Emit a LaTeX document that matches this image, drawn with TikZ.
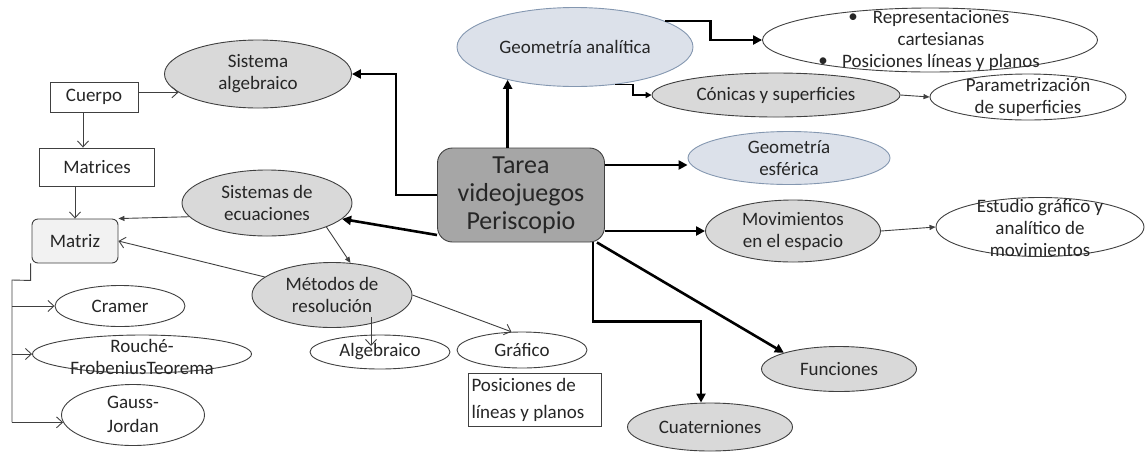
\documentclass[tikz,border=0pt]{standalone}
\usepackage{fontspec}
\setmainfont{Carlito}
\usepackage{tikz}
\usetikzlibrary{calc,arrows.meta,shapes.geometric}
\definecolor{ink}{HTML}{262626}
\definecolor{edgec}{HTML}{404040}
\definecolor{grayc}{HTML}{D9D9D9}
\definecolor{paleg}{HTML}{F2F2F2}
\definecolor{darkg}{HTML}{A6A6A6}
\definecolor{bluec}{HTML}{DCE1EA}
\definecolor{blued}{HTML}{8497B0}
\tikzset{
  bigar/.style={-{Triangle[length=9pt,width=9pt]},line width=2.6pt,black},
  medar/.style={-{Triangle[length=6pt,width=6pt]},line width=1.6pt,black},
  smar/.style={-{Triangle[length=6pt,width=5pt]},line width=0.9pt,edgec},
  opar/.style={-{Straight Barb[length=6pt,width=11pt]},line width=0.9pt,edgec},
  lbl/.style={font=\fontsize{19}{22}\selectfont,text=ink,align=center},
  box/.style={lbl,draw=edgec,line width=0.9pt,inner sep=2pt},
  ovl/.style={lbl,ellipse,draw=edgec,line width=0.9pt,fill=white,inner sep=0pt},
  gov/.style={ovl,fill=grayc},
  bov/.style={ovl,fill=bluec,draw=blued},
  sz/.style 2 args={minimum width=#1pt,minimum height=#2pt}
}
\begin{document}
\begin{tikzpicture}[x=1pt,y=-1pt]
\useasboundingbox (0,0) rectangle (1145,451);
% lado izquierdo
\node[box,sz={88}{30}] (cuerpo) at (94,97) {Cuerpo};
\node[box,sz={115}{38}] (matrices) at (97,167) {Matrices};
\node[box,sz={86}{44},rounded corners=6pt,fill=paleg] (matriz) at (75,241) {Matriz};
\node[gov,sz={187}{68}] (sa) at (258,74) {Sistema\\algebraico};
\node[gov,sz={170}{66}] (se) at (267,203) {Sistemas de\\ecuaciones};
\node[gov,sz={160}{65}] (mr) at (332,295) {Métodos de\\resolución};
\node[ovl,sz={130}{41}] (cramer) at (120,306) {Cramer};
\node[ovl,sz={219}{38}] (rf) at (142,354) {};
\node[lbl] (rftx) at (142,357) {Rouché-\\FrobeniusTeorema};
\node[ovl,sz={143}{61}] (gj) at (133,415) {};
\node[lbl] (gjtx) at (133,414) {Gauss-\\[2pt]Jordan};
\node[ovl,sz={140}{34}] (alg) at (380,352) {Algebraico};
\node[ovl,sz={130}{36}] (gra) at (522,350) {Gráfico};
\node[box,sz={133}{53},align=flush left,text width=127pt] (pos) at (535,400) {Posiciones de\\[5pt]líneas y planos};
% centro
\node[box,sz={167}{94},rounded corners=15pt,fill=darkg,font=\fontsize{26}{28}\selectfont] (tarea) at (521,195) {Tarea\\videojuegos\\Periscopio};
% lado derecho
\node[bov,sz={236}{79}] (ga) at (575,47) {Geometría analítica};
\node[ovl,sz={335}{64}] (rep) at (930,40) {};
\node[lbl] (reptx) at (941,40) {Representaciones\\cartesianas\\Posiciones líneas y planos};
\node[lbl] (bula) at (853,18) {•};
\node[lbl] (bulb) at (823,62) {•};
\node[gov,sz={248}{44}] (con) at (776,95) {Cónicas y superficies};
\node[ovl,sz={196}{46}] (par) at (1028,97) {};
\node[lbl] (partx) at (1028,97) {Parametrización\\de superficies};
\node[bov,sz={202}{53}] (ge) at (789,158) {};
\node[lbl] (getx) at (789,158) {Geometría\\esférica};
\node[gov,sz={175}{62}] (mov) at (793,231) {Movimientos\\en el espacio};
\node[ovl,sz={208}{59}] (est) at (1040,227) {};
\node[lbl] (esttx) at (1040,228) {Estudio gráfico y\\analítico de\\movimientos};
\node[gov,sz={155}{45}] (fun) at (839,369) {Funciones};
\node[gov,sz={165}{48}] (cua) at (710,427) {Cuaterniones};
% conectores finos
\draw[opar] (cuerpo.east |- sa.193) -- (sa.193);
\draw[opar] ([xshift=-11pt]cuerpo.south) -- ([xshift=-11pt]cuerpo.south |- matrices.north);
\draw[opar] (matrices.south -| matriz.north) -- (matriz.north);
\draw[smar] (se.190) -- (matriz.north east);
\draw[opar] (mr.165) -- (matriz.east);
\draw[smar] (se.-22) -- (mr.60);
\draw[opar] ([shift={(39,22)}]mr.center) -- ([shift={(-9,-6)}]alg.center);
\draw[opar] (mr.east) -- (gra.120);
\coordinate (rail) at (12,280);
\draw[edgec,line width=0.9pt] ([xshift=-1pt]matriz.south west) -- ++(0,17) -- (rail) -- (rail |- gj.186);
\draw[opar] (rail |- cramer.west) -- (cramer.west);
\draw[opar] (rail |- rf.west) -- (rf.west);
\draw[opar] (rail |- gj.186) -- (gj.186);
\draw[smar] (con.east) -- (par.west);
\draw[smar] (mov.east) -- (est.west);
% conectores gruesos
\draw[bigar] (tarea.west) -- ++(-41,0) |- (sa.east);
\draw[bigar] ([yshift=-40pt]tarea.west) -- (se.-12);
\draw[bigar] (tarea.north -| ga.206) -- (ga.206);
\draw[bigar] (ga.16) -- ++(45,0) |- (rep.west);
\draw[medar] (ga.-43) -- ++(18,0) |- (con.west);
\draw[bigar] ([yshift=30pt]tarea.east) -- ([yshift=30pt]tarea.east -| ge.west);
\draw[bigar] ([yshift=-36pt]tarea.east) -- (mov.west);
\draw[bigar] ([xshift=-8pt]tarea.south east) -- (fun.north west);
\draw[bigar] ([xshift=72pt]tarea.south) -- ++(0,79) -| ([xshift=-9pt]cua.north);
\end{tikzpicture}
\end{document}
